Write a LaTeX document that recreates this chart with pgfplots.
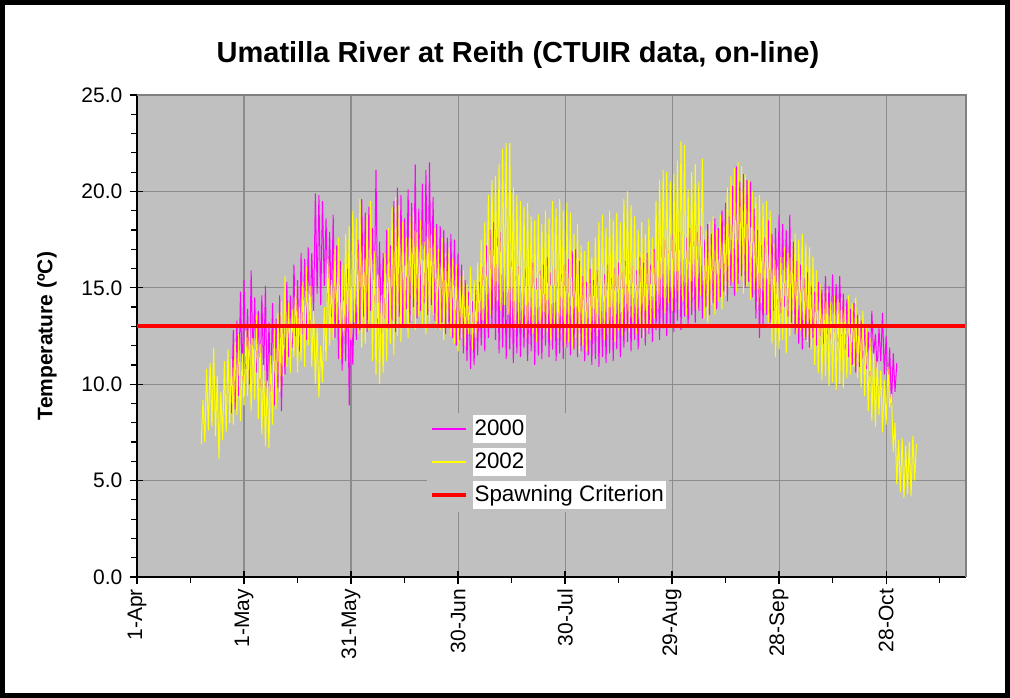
\documentclass[border=0pt]{standalone}
\usepackage{fontspec}
\setmainfont{Liberation Sans}
\usepackage{pgfplots}
\usepackage{pgfplotstable}
\pgfplotsset{compat=1.18}
\definecolor{plotbg}{HTML}{C0C0C0}
\definecolor{gridc}{HTML}{8C8C8C}
\definecolor{borderc}{HTML}{808080}
\definecolor{mag}{RGB}{255,0,255}
\definecolor{yel}{RGB}{255,255,0}
\definecolor{redc}{RGB}{255,0,0}

% 2002: alternating daily min / max, starting 19 Apr (day 18 after 1 Apr)
\pgfplotstableread[row sep=\\]{
t\\
6.9\\9.2\\7.0\\10.8\\7.6\\11.1\\7.8\\11.9\\7.3\\10.4\\6.1\\9.6\\7.1\\11.2\\7.5\\11.8\\8.0\\11.3\\7.9\\12.2\\
8.4\\12.6\\8.1\\11.6\\8.9\\12.8\\9.4\\13.0\\8.6\\12.4\\9.2\\13.6\\8.2\\12.1\\7.4\\11.0\\6.8\\10.2\\6.7\\11.5\\
7.9\\12.8\\8.7\\13.7\\9.6\\14.3\\10.4\\15.6\\10.9\\14.2\\10.6\\13.9\\11.4\\15.1\\10.6\\14.0\\11.2\\15.3\\10.9\\16.1\\
12.0\\15.1\\10.9\\13.8\\10.0\\12.9\\9.3\\12.0\\10.1\\14.0\\11.2\\16.5\\12.0\\15.4\\12.3\\17.0\\13.0\\17.6\\11.3\\16.2\\
12.5\\17.8\\12.9\\18.2\\12.3\\19.0\\13.2\\18.6\\12.6\\19.6\\11.9\\17.2\\12.1\\18.8\\12.8\\19.5\\11.2\\16.9\\10.5\\15.7\\
10.0\\14.6\\10.6\\16.8\\11.2\\18.1\\12.1\\19.2\\11.5\\19.7\\12.5\\19.3\\12.2\\18.4\\13.1\\17.6\\12.4\\18.7\\13.3\\19.0\\
12.8\\17.9\\13.5\\18.5\\13.0\\17.4\\12.6\\18.3\\13.2\\17.8\\13.6\\18.1\\12.9\\17.0\\12.8\\17.6\\12.3\\16.8\\13.0\\17.1\\
12.5\\16.5\\12.1\\16.2\\11.7\\15.6\\12.4\\15.9\\12.0\\15.2\\12.6\\16.1\\11.8\\15.4\\12.4\\16.3\\12.9\\17.5\\13.3\\18.4\\
13.1\\19.8\\13.6\\20.6\\14.0\\20.8\\14.3\\21.4\\13.8\\22.2\\14.1\\22.5\\13.6\\22.5\\13.2\\20.2\\12.8\\19.8\\13.1\\19.5\\
12.9\\19.2\\12.4\\19.4\\12.8\\18.7\\12.6\\18.5\\12.2\\18.8\\12.9\\18.3\\12.5\\19.0\\12.7\\18.6\\12.3\\19.5\\12.9\\19.1\\
12.4\\19.6\\12.6\\19.0\\11.9\\19.4\\12.2\\18.9\\11.8\\17.8\\12.4\\18.3\\11.6\\17.2\\12.0\\16.9\\11.7\\17.4\\12.3\\16.6\\
12.8\\17.6\\12.5\\18.4\\12.9\\18.8\\12.3\\18.1\\12.6\\19.0\\12.4\\18.5\\12.2\\18.9\\12.8\\18.4\\12.5\\19.6\\13.0\\20.0\\
12.7\\19.3\\13.2\\18.7\\12.6\\18.0\\12.9\\18.4\\12.4\\17.8\\12.8\\18.6\\13.1\\17.6\\13.4\\19.5\\13.9\\20.6\\14.1\\21.1\\
13.7\\21.0\\14.2\\20.5\\13.8\\20.9\\14.4\\21.6\\13.9\\22.6\\14.3\\22.4\\13.6\\20.1\\14.0\\21.0\\14.5\\21.4\\13.8\\20.5\\
14.6\\21.7\\13.4\\18.0\\13.2\\18.4\\14.1\\18.7\\13.6\\18.0\\14.3\\18.8\\13.9\\18.2\\14.6\\20.2\\15.0\\20.8\\15.3\\21.2\\
14.8\\21.5\\15.4\\21.3\\14.7\\20.9\\15.1\\20.6\\14.4\\20.0\\14.9\\19.7\\13.9\\19.8\\14.2\\19.4\\13.7\\19.5\\13.2\\19.0\\
12.1\\17.3\\11.4\\16.1\\11.8\\16.6\\12.3\\17.1\\11.6\\16.8\\12.5\\17.5\\12.9\\17.8\\12.6\\17.5\\12.8\\17.8\\12.4\\17.3\\
12.2\\17.1\\11.8\\16.6\\11.0\\15.9\\10.6\\15.2\\10.2\\14.7\\10.4\\14.9\\9.9\\14.3\\10.1\\14.6\\9.7\\14.4\\10.0\\14.5\\
9.8\\14.0\\10.3\\14.6\\10.5\\14.2\\10.9\\14.5\\10.3\\13.6\\9.8\\13.8\\9.4\\12.9\\8.6\\12.4\\8.1\\11.6\\7.8\\11.2\\
8.4\\10.7\\7.5\\10.2\\7.9\\10.9\\8.8\\9.5\\6.5\\8.0\\4.8\\7.1\\4.4\\7.2\\4.1\\6.8\\4.3\\7.0\\4.2\\7.3\\
5.0\\6.9\\
}\yrtwo

% 2000: alternating daily min / max, starting 27 Apr
\pgfplotstableread[row sep=\\]{
t\\
8.5\\12.8\\8.7\\13.3\\9.4\\14.8\\10.2\\15.4\\10.8\\13.9\\10.0\\15.9\\11.3\\14.5\\10.6\\13.8\\9.8\\14.6\\10.4\\15.1\\
9.2\\13.2\\9.6\\14.2\\8.9\\13.4\\9.8\\14.6\\8.6\\12.9\\10.5\\15.3\\11.4\\14.6\\11.9\\16.2\\12.5\\15.4\\11.7\\16.8\\
12.6\\16.5\\12.3\\17.1\\13.0\\16.8\\13.6\\19.9\\14.7\\19.8\\14.1\\19.5\\15.1\\18.6\\14.3\\17.9\\13.5\\18.8\\12.4\\17.2\\
11.3\\16.4\\10.7\\14.9\\11.2\\16.0\\8.9\\14.1\\11.0\\15.2\\12.3\\17.5\\12.8\\19.6\\13.5\\18.9\\12.7\\19.2\\13.8\\18.1\\
14.2\\21.1\\13.1\\17.4\\12.6\\16.8\\13.4\\18.0\\12.9\\17.2\\13.3\\19.5\\12.7\\20.2\\13.5\\19.8\\13.1\\18.6\\13.9\\20.1\\
13.2\\19.4\\14.0\\21.4\\13.4\\19.1\\13.8\\20.4\\14.2\\21.1\\13.6\\21.5\\14.1\\19.7\\13.3\\18.3\\12.9\\18.2\\13.2\\18.0\\
12.6\\17.6\\12.9\\17.8\\12.4\\17.5\\12.0\\16.8\\12.3\\16.2\\11.6\\15.4\\11.2\\14.8\\10.8\\14.3\\11.0\\14.9\\11.5\\15.3\\
12.0\\16.1\\11.7\\17.2\\12.4\\18.0\\12.9\\18.4\\12.3\\17.6\\11.6\\17.9\\11.9\\16.5\\11.3\\15.8\\11.8\\16.4\\11.1\\15.6\\
11.6\\16.1\\11.4\\15.4\\11.9\\16.0\\11.2\\15.2\\11.7\\16.3\\11.0\\15.5\\11.5\\15.9\\11.3\\16.2\\12.0\\16.6\\11.4\\15.8\\
11.8\\16.0\\11.2\\15.3\\11.6\\15.7\\11.3\\16.2\\11.9\\16.5\\11.5\\16.9\\11.8\\17.0\\11.4\\16.4\\11.7\\15.6\\11.2\\15.3\\
11.5\\16.0\\11.0\\15.4\\11.3\\15.9\\10.9\\15.1\\11.4\\15.7\\11.1\\16.2\\11.6\\15.5\\11.2\\16.0\\11.8\\16.3\\11.4\\15.8\\
11.9\\16.4\\12.2\\15.7\\11.7\\16.1\\12.3\\15.9\\11.8\\16.6\\12.4\\16.3\\12.0\\16.8\\12.6\\16.2\\12.2\\17.0\\12.8\\16.5\\
12.3\\17.2\\12.9\\17.5\\12.5\\16.9\\13.1\\17.8\\12.7\\17.3\\13.3\\17.9\\12.8\\17.0\\13.5\\17.6\\13.0\\18.1\\13.6\\17.4\\
13.2\\17.9\\13.8\\18.2\\13.4\\17.5\\14.0\\18.3\\13.6\\17.8\\14.2\\18.6\\13.9\\18.1\\14.5\\19.0\\14.8\\19.4\\14.3\\18.7\\
15.1\\20.3\\14.6\\21.3\\15.2\\20.5\\15.6\\20.9\\15.0\\20.6\\15.3\\20.5\\14.5\\19.1\\13.4\\18.0\\12.4\\17.2\\13.0\\17.6\\
13.6\\18.5\\13.2\\17.8\\13.8\\18.1\\14.1\\18.8\\13.7\\18.3\\14.0\\18.0\\13.5\\18.8\\13.2\\17.4\\12.6\\16.4\\12.1\\16.2\\
11.8\\15.5\\12.3\\15.8\\11.9\\15.1\\12.4\\14.8\\12.0\\15.3\\12.5\\14.9\\12.1\\15.6\\12.6\\15.1\\12.3\\15.7\\12.7\\15.2\\
12.2\\15.6\\12.5\\14.7\\11.8\\14.4\\11.4\\13.9\\11.0\\14.2\\10.6\\13.6\\10.9\\13.3\\11.3\\12.9\\10.8\\12.7\\10.4\\13.8\\
11.5\\12.6\\10.7\\12.9\\11.2\\13.7\\10.5\\12.5\\9.8\\11.9\\8.9\\11.6\\9.6\\11.1\\
}\yrzero

\begin{document}
\begin{tikzpicture}
\begin{axis}[
  name=ax,
  at={(0pt,0pt)}, anchor=south west,
  scale only axis, width=621.75pt, height=361.5pt,
  xmin=0, xmax=232.4, ymin=0, ymax=25,
  axis background/.style={fill=plotbg},
  axis x line*=bottom, axis y line*=left,
  axis line style={black, line width=1.2pt, -},
  xtick={0,30,...,210},
  xticklabels={1-Apr,1-May,31-May,30-Jun,30-Jul,29-Aug,28-Sep,28-Oct},
  minor xtick={15,45,...,225},
  ytick={0,5,...,25},
  yticklabels={0.0,5.0,10.0,15.0,20.0,25.0},
  minor ytick={1,2,3,4,6,7,8,9,11,12,13,14,16,17,18,19,21,22,23,24},
  tick align=outside,
  major tick length=5.5pt, minor tick length=4.5pt,
  tick style={black, line width=0.9pt},
  extra x ticks={0,30,...,210},
  extra x tick labels={{},{},{},{},{},{},{},{}},
  extra x tick style={tick align=inside, xmajorgrids=false, major tick length=4.5pt},
  extra y ticks={0,5,...,25},
  extra y tick labels={{},{},{},{},{},{}},
  extra y tick style={tick align=inside, ymajorgrids=false, major tick length=4.5pt},
  xmajorgrids, ymajorgrids,
  major grid style={gridc, line width=0.8pt},
  ticklabel style={font=\fontsize{15.75pt}{18pt}\selectfont},
  xticklabel style={rotate=90, anchor=east},
  yticklabel style={xshift=-2pt},
  ylabel={Temperature (ºC)},
  every axis y label/.style={at={(axis description cs:-0.1086,0.5)}, rotate=90, anchor=center, font=\bfseries\fontsize{15.75pt}{18pt}\selectfont},
  legend style={at={(axis description cs:0.3498,0.3418)}, anchor=north west, fill=plotbg, draw=none, inner sep=2pt,
    font=\fontsize{16.8pt}{19pt}\selectfont, row sep=3.75pt, column sep=3.5pt, nodes={inner sep=0pt},
    /tikz/every even column/.append style={nodes={fill=white, inner sep=1.5pt, text height=14pt, text depth=4pt}}},
  legend cell align=left,
]
\addplot[color=mag, line width=0.75pt,
  legend image code/.code={\draw[draw=mag, line width=1.5pt] (0pt,0pt) -- (25.5pt,0pt);}]
  table[x expr=26.5+0.5*\coordindex, y=t]{\yrzero};
\addlegendentry{2000}
\addplot[color=yel, line width=0.75pt,
  legend image code/.code={\draw[draw=yel, line width=1.5pt] (0pt,0pt) -- (25.5pt,0pt);}]
  table[x expr=18+0.5*\coordindex, y=t]{\yrtwo};
\addlegendentry{2002}
\addplot[color=redc, line width=3pt,
  legend image code/.code={\draw[draw=redc, line width=3pt] (0pt,0pt) -- (25.5pt,0pt);}]
  coordinates {(0,13) (232.4,13)};
\addlegendentry{Spawning Criterion}
\end{axis}
\draw[borderc, line width=1.5pt] (ax.north west) -- (ax.north east) -- (ax.south east);
\node[font=\bfseries\fontsize{21.75pt}{26pt}\selectfont] at (285.75pt,391.5pt) {Umatilla River at Reith (CTUIR data, on-line)};
\pgfresetboundingbox
\useasboundingbox (-102.75pt,-90.75pt) rectangle (654.75pt,432.75pt);
\draw[line width=3.5pt] (-101pt,-89pt) rectangle (653pt,431pt);
\end{tikzpicture}
\end{document}
